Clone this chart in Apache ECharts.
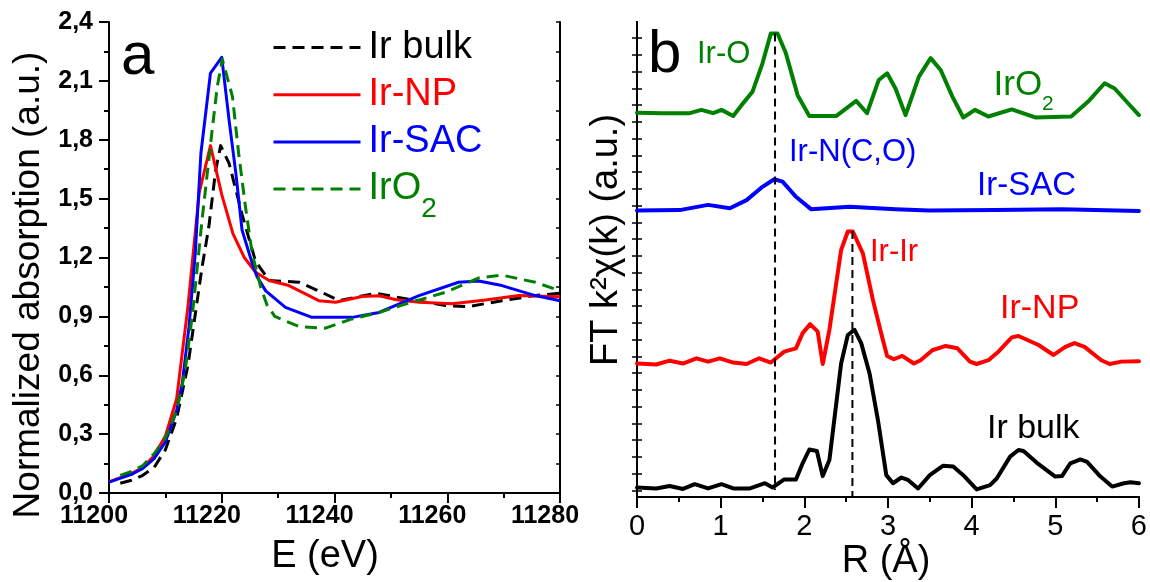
<!DOCTYPE html>
<html>
<head>
<meta charset="utf-8">
<script src="https://cdn.jsdelivr.net/npm/echarts@6/dist/echarts.min.js"></script>
<style>
html,body{margin:0;padding:0;background:#fff;}
#chart{width:1150px;height:582px;}
</style>
</head>
<body>
<div id="chart"></div>
<script>
// ---------- Panel a : XANES ----------
const eBulk = [11202, 11204, 11206, 11208, 11210, 11212, 11214, 11216.5, 11217.7, 11218.9, 11219.8, 11221.3, 11223.6, 11226, 11228.4, 11233.7, 11237.2, 11240.8, 11247.3, 11252.6, 11259.7, 11263.8, 11269.7, 11275.6, 11280];
const aBulk = [0.05, 0.065, 0.09, 0.13, 0.22, 0.38, 0.65, 1.15, 1.355, 1.64, 1.77, 1.68, 1.42, 1.18, 1.083, 1.074, 1.03, 0.98, 1.018, 0.99, 0.955, 0.95, 0.98, 1.006, 1.018];

const eNP = [11200, 11204, 11206, 11208, 11210, 11212, 11214, 11216, 11218, 11220, 11222, 11224, 11226, 11228.4, 11231.9, 11234.5, 11237.2, 11240.2, 11244.9, 11247.9, 11251, 11255, 11260.9, 11266.8, 11272.7, 11280];
const aNP = [0.057, 0.1, 0.13, 0.19, 0.29, 0.48, 0.95, 1.53, 1.77, 1.52, 1.32, 1.2, 1.125, 1.083, 1.057, 1.02, 0.98, 0.972, 1.001, 1.005, 0.985, 0.972, 0.964, 0.984, 1.006, 1.0];

const eSAC = [11200, 11204, 11206, 11208, 11210, 11212, 11213, 11214.2, 11215.3, 11216.3, 11218, 11220, 11221.3, 11222.5, 11223.6, 11225.4, 11226.3, 11227.8, 11231.3, 11236, 11243.1, 11247.9, 11255, 11262, 11265.6, 11269.7, 11275.6, 11280];
const aSAC = [0.055, 0.095, 0.125, 0.175, 0.26, 0.42, 0.56, 0.85, 1.22, 1.73, 2.14, 2.22, 1.9, 1.63, 1.34, 1.17, 1.10, 1.03, 0.946, 0.895, 0.895, 0.92, 1.006, 1.074, 1.08, 1.057, 1.006, 0.98];

const eIrO2 = [11202, 11204, 11206, 11208, 11210, 11212, 11213.5, 11214.8, 11216.5, 11218.3, 11219.2, 11220.1, 11221.9, 11223, 11224.2, 11225.4, 11226.9, 11228, 11229.4, 11233.7, 11238.4, 11243.1, 11247.9, 11252.6, 11259.7, 11265.6, 11269.7, 11275.6, 11280];
const aIrO2 = [0.09, 0.11, 0.14, 0.2, 0.28, 0.42, 0.62, 0.91, 1.39, 1.85, 2.07, 2.21, 2.02, 1.73, 1.46, 1.22, 1.05, 0.96, 0.9, 0.848, 0.84, 0.887, 0.92, 0.963, 1.023, 1.096, 1.11, 1.074, 1.03];

const yLabelsA = ['0,0', '0,3', '0,6', '0,9', '1,2', '1,5', '1,8', '2,1', '2,4'];

// ---------- Panel b : FT-EXAFS (stacked, arbitrary units) ----------
const rBulk = [0, 0.23, 0.39, 0.55, 0.69, 0.85, 1.01, 1.15, 1.35, 1.53, 1.62, 1.76, 1.90, 1.98, 2.06, 2.15, 2.22, 2.30, 2.44, 2.52, 2.60, 2.68, 2.78, 2.88, 2.98, 3.06, 3.16, 3.24, 3.36, 3.50, 3.66, 3.78, 3.90, 4.06, 4.22, 4.30, 4.46, 4.56, 4.62, 4.78, 5.00, 5.08, 5.18, 5.30, 5.38, 5.54, 5.68, 5.82, 5.90, 6.0];
const fBulk = [2.0, 1.8, 2.3, 1.7, 2.7, 1.8, 2.7, 1.8, 1.8, 2.9, 2.0, 3.7, 3.7, 7.1, 10.0, 9.7, 4.4, 7.8, 28.1, 34.1, 35.2, 32.4, 26.0, 16.2, 4.6, 2.9, 4.1, 3.6, 1.8, 4.6, 6.6, 6.4, 4.6, 1.6, 2.5, 3.9, 8.5, 9.9, 9.7, 7.2, 4.3, 4.4, 7.1, 7.9, 7.4, 4.3, 2.2, 2.9, 3.1, 2.9];

const rNP = [0, 0.23, 0.39, 0.55, 0.71, 0.85, 0.99, 1.15, 1.31, 1.46, 1.60, 1.76, 1.90, 1.98, 2.07, 2.16, 2.22, 2.30, 2.44, 2.52, 2.58, 2.70, 2.82, 2.93, 2.99, 3.07, 3.17, 3.31, 3.39, 3.53, 3.69, 3.83, 3.98, 4.06, 4.20, 4.32, 4.48, 4.56, 4.80, 4.98, 5.12, 5.23, 5.35, 5.55, 5.65, 5.79, 6.0];
const fNP = [28.1, 27.9, 28.7, 28.1, 29.2, 28.5, 29.2, 28.3, 28.0, 29.2, 28.3, 30.6, 31.3, 34.5, 36.4, 34.8, 28.0, 35.2, 52.0, 55.9, 55.9, 51.3, 41.5, 33.7, 29.7, 29.0, 29.7, 28.1, 28.8, 30.9, 31.8, 31.3, 28.5, 28.0, 28.8, 30.6, 33.6, 33.9, 32.0, 29.9, 31.6, 32.4, 31.6, 28.8, 28.0, 28.5, 28.6];

const rSAC = [0, 0.51, 0.85, 1.11, 1.31, 1.50, 1.64, 1.74, 1.90, 2.08, 2.54, 3.09, 3.49, 4.28, 5.08, 6.0];
const fSAC = [60.3, 60.4, 61.5, 60.8, 62.5, 65.3, 66.9, 66.4, 63.2, 60.6, 61.1, 60.6, 60.3, 60.4, 60.6, 60.2];

const rIrO2 = [0, 0.31, 0.63, 0.77, 0.91, 1.01, 1.15, 1.25, 1.38, 1.50, 1.60, 1.68, 1.78, 1.92, 2.06, 2.38, 2.62, 2.75, 2.89, 2.99, 3.09, 3.21, 3.37, 3.51, 3.63, 3.77, 3.90, 4.04, 4.20, 4.48, 4.76, 5.19, 5.39, 5.59, 5.71, 5.87, 6.0];
const fIrO2 = [80.9, 80.8, 80.8, 81.5, 80.8, 81.5, 80.2, 82.5, 85.3, 91.3, 97.6, 97.6, 93.4, 84.6, 80.2, 80.2, 83.4, 80.8, 87.8, 89.2, 86.0, 80.4, 88.5, 92.4, 89.9, 84.3, 79.9, 81.5, 80.1, 81.6, 79.9, 80.1, 83.2, 87.1, 86.0, 82.9, 80.4];

// vertical dashed guide lines (R position, top value, bottom value)
const guideR = [1.65, 2.575];
const guideTop = [97.6, 56.0];
const guideBottom = [1.5, 0];

// minor tick positions of the stacked panel's y axes
const rightYTicks = [1.4, 4.9, 8.5, 12.0, 15.5, 19.0, 22.6, 26.1, 29.6, 33.1, 36.7, 40.2, 43.7, 47.2, 50.8, 54.3, 57.8, 61.3, 64.9, 68.4, 71.9, 75.4, 79.0, 82.5, 86.0, 89.5, 93.1, 96.6];

const FONT = '"Liberation Sans", Arial, sans-serif';
const C_BLACK = '#000000', C_RED = '#ff0000', C_BLUE = '#0000ff', C_GREEN = '#008000';
const DASH = [12, 7];

function pairs(xs, ys) { return xs.map((x, i) => [x, ys[i]]); }

const chart = echarts.init(document.getElementById('chart'), null, {renderer: 'canvas'});

const axisLine = {show: true, lineStyle: {color: '#000', width: 2}};

function lineSeriesA(name, xs, ys, color, dashed) {
  return {
    name: name, type: 'line', xAxisIndex: 0, yAxisIndex: 0,
    data: pairs(xs, ys), symbol: 'none', smooth: false,
    lineStyle: {color: color, width: 3, type: dashed ? DASH : 'solid', join: 'round', cap: 'butt'},
    itemStyle: {color: color}
  };
}
function lineSeriesB(name, xs, ys, color) {
  return {
    name: name, type: 'line', xAxisIndex: 2, yAxisIndex: 2,
    data: pairs(xs, ys), symbol: 'none', smooth: false,
    lineStyle: {color: color, width: 4, join: 'round', cap: 'round'},
    itemStyle: {color: color}
  };
}

const guideSeries = guideR.map((r, i) => ({
  name: 'guide' + i, type: 'line', xAxisIndex: 2, yAxisIndex: 2, z: 5,
  data: [[r, guideTop[i]], [r, guideBottom[i]]], symbol: 'none',
  lineStyle: {color: '#000', width: 2, type: [8, 5]}
}));

function legendItem(name, color, top, rich) {
  const lg = {
    data: [name], orient: 'vertical', left: 272, top: top, padding: 0,
    itemWidth: 87, itemHeight: 14, selectedMode: false,
    itemStyle: {opacity: 0, borderWidth: 0},
    lineStyle: {width: 3},
    textStyle: {color: color, fontSize: 38, fontFamily: FONT, lineHeight: 40, padding: [0, 0, 0, 3]}
  };
  if (rich) {
    lg.formatter = function () { return '{n|IrO}{s|2}'; };
    lg.textStyle.rich = {
      n: {fontSize: 38, lineHeight: 38, fontFamily: FONT, color: color, verticalAlign: 'top', padding: [0, 0, 0, 0]},
      s: {fontSize: 28, lineHeight: 28, fontFamily: FONT, color: color, verticalAlign: 'top', padding: [25.5, 0, 0, 0]}
    };
  }
  return lg;
}

function label(text, x, y, size, color) {
  return {type: 'text', x: x, y: y, z: 100,
    style: {text: text, fontSize: size, fontFamily: FONT, fill: color, align: 'left', verticalAlign: 'middle'}};
}

const option = {
  animation: false,
  backgroundColor: '#ffffff',
  grid: [
    {left: 109, top: 22, width: 451, height: 471, containLabel: false},
    {left: 637, top: 22, width: 503, height: 475, containLabel: false}
  ],
  legend: [
    legendItem('Ir bulk', C_BLACK, 27.5),
    legendItem('Ir-NP', C_RED, 74.7),
    legendItem('Ir-SAC', C_BLUE, 122),
    legendItem('IrO2', C_GREEN, 170, true)
  ],
  xAxis: [
    {gridIndex: 0, type: 'value', min: 11200, max: 11280, interval: 20, position: 'bottom',
     axisLine: axisLine,
     axisTick: {show: true, inside: false, length: 10, lineStyle: {color: '#000', width: 2}},
     minorTick: {show: true, splitNumber: 2, length: 5, lineStyle: {color: '#000', width: 2}},
     splitLine: {show: false}, minorSplitLine: {show: false},
     axisLabel: {show: true, fontSize: 25, fontWeight: 'bold', fontFamily: FONT, color: '#000', margin: 11,
                 padding: [0, 30, 0, 0], formatter: v => String(v)}},
    {gridIndex: 0, type: 'value', min: 11200, max: 11280, interval: 10, position: 'top',
     axisLine: axisLine,
     axisTick: {show: true, inside: true, length: 4, lineStyle: {color: '#000', width: 1.5}},
     splitLine: {show: false}, axisLabel: {show: false}},
    {gridIndex: 1, type: 'value', min: 0, max: 6, interval: 1, position: 'bottom',
     axisLine: axisLine,
     axisTick: {show: true, inside: false, length: 11, lineStyle: {color: '#000', width: 2}},
     minorTick: {show: true, splitNumber: 2, length: 5, lineStyle: {color: '#000', width: 2}},
     splitLine: {show: false}, minorSplitLine: {show: false},
     axisLabel: {show: true, fontSize: 29, fontFamily: FONT, color: '#000', margin: 15}},
    {gridIndex: 1, type: 'value', min: 0, max: 6, interval: 0.5, position: 'top',
     axisLine: axisLine,
     axisTick: {show: true, inside: true, length: 4, lineStyle: {color: '#000', width: 1.5}},
     splitLine: {show: false}, axisLabel: {show: false}}
  ],
  yAxis: [
    {gridIndex: 0, type: 'value', min: 0, max: 2.4, interval: 0.3, position: 'left',
     axisLine: axisLine,
     axisTick: {show: true, inside: false, length: 10, lineStyle: {color: '#000', width: 2}},
     minorTick: {show: true, splitNumber: 2, length: 5, lineStyle: {color: '#000', width: 2}},
     splitLine: {show: false}, minorSplitLine: {show: false},
     axisLabel: {show: true, fontSize: 25, fontWeight: 'bold', fontFamily: FONT, color: '#000', margin: 16,
                 formatter: (v, i) => yLabelsA[i]}},
    {gridIndex: 0, type: 'value', min: 0, max: 2.4, interval: 0.15, position: 'right',
     axisLine: axisLine,
     axisTick: {show: true, inside: true, length: 4, lineStyle: {color: '#000', width: 1.5}},
     splitLine: {show: false}, axisLabel: {show: false}},
    {gridIndex: 1, type: 'value', min: 0, max: 100, position: 'left',
     axisLine: axisLine,
     axisTick: {show: true, inside: true, length: 5, customValues: rightYTicks, lineStyle: {color: '#000', width: 1.5}},
     splitLine: {show: false}, axisLabel: {show: false}},
    {gridIndex: 1, type: 'value', min: 0, max: 100, position: 'right',
     axisLine: axisLine,
     axisTick: {show: true, inside: true, length: 5, customValues: rightYTicks, lineStyle: {color: '#000', width: 1.5}},
     splitLine: {show: false}, axisLabel: {show: false}}
  ],
  series: [
    lineSeriesA('Ir bulk', eBulk, aBulk, C_BLACK, true),
    lineSeriesA('Ir-NP', eNP, aNP, C_RED, false),
    lineSeriesA('Ir-SAC', eSAC, aSAC, C_BLUE, false),
    lineSeriesA('IrO2', eIrO2, aIrO2, C_GREEN, true),
    lineSeriesB('FT Ir bulk', rBulk, fBulk, C_BLACK),
    lineSeriesB('FT Ir-NP', rNP, fNP, C_RED),
    lineSeriesB('FT Ir-SAC', rSAC, fSAC, C_BLUE),
    lineSeriesB('FT IrO2', rIrO2, fIrO2, C_GREEN)
  ].concat(guideSeries),
  graphic: {elements: [
    label('a', 121, 57.2, 60, '#000'),
    label('b', 648, 55.2, 60, '#000'),
    label('Ir-O', 697, 54.3, 31, C_GREEN),
    {type: 'text', x: 993.5, y: 85, z: 100,
     style: {text: '{n|IrO}{s|2}', fontFamily: FONT, fill: C_GREEN, align: 'left', verticalAlign: 'middle',
       rich: {
         n: {fontSize: 35, lineHeight: 35, fontFamily: FONT, fill: C_GREEN, verticalAlign: 'top', padding: [0, 0, 0, 0]},
         s: {fontSize: 21, lineHeight: 21, fontFamily: FONT, fill: C_GREEN, verticalAlign: 'top', padding: [26.2, 0, 0, 0]}
       }}},
    label('Ir-N(C,O)', 789, 152.3, 31, C_BLUE),
    label('Ir-SAC', 977, 185.6, 33, C_BLUE),
    label('Ir-Ir', 870, 252.3, 31, C_RED),
    label('Ir-NP', 1000, 308.2, 34, C_RED),
    label('Ir bulk', 987, 428.2, 34, C_BLACK),
    {type: 'text', x: 28.5, y: 285, rotation: Math.PI / 2, z: 100,
     style: {text: 'Normalized absorption (a.u.)', fontSize: 37, fontFamily: FONT, fill: '#000', align: 'center', verticalAlign: 'middle'}},
    {type: 'text', x: 607, y: 240, rotation: Math.PI / 2, z: 100,
     style: {text: 'FT k²χ(k) (a.u.)', fontSize: 38, fontFamily: FONT, fill: '#000', align: 'center', verticalAlign: 'middle'}},
    {type: 'text', x: 325, y: 557, z: 100,
     style: {text: 'E (eV)', fontSize: 38, fontFamily: FONT, fill: '#000', align: 'center', verticalAlign: 'middle'}},
    {type: 'text', x: 886, y: 562, z: 100,
     style: {text: 'R (Å)', fontSize: 38, fontFamily: FONT, fill: '#000', align: 'center', verticalAlign: 'middle'}}
  ]}
};

chart.setOption(option);
</script>
</body>
</html>
